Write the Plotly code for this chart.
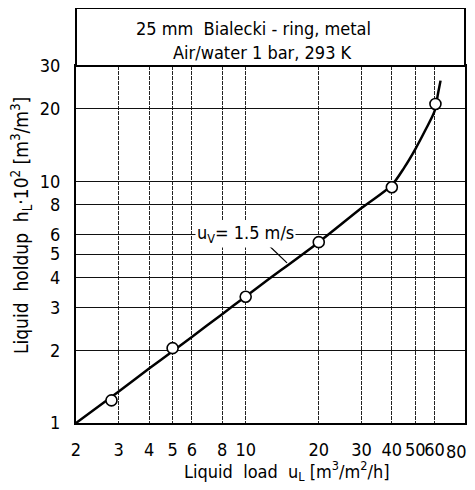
import plotly.graph_objects as go

# ---- data ----
x_ticks = [2, 3, 4, 5, 6, 8, 10, 20, 30, 40, 50, 60, 80]
y_ticks = [1, 2, 3, 4, 5, 6, 8, 10, 20, 30]

# measured points (liquid load, holdup*100)
pts_x = [2.8, 5.0, 10.0, 20.0, 40.0, 60.5]
pts_y = [1.24, 2.04, 3.33, 5.6, 9.45, 20.9]

# fitted curve u_V = 1.5 m/s
curve_x = [2, 3, 4, 5, 6, 8, 10, 12, 20, 30, 40, 45, 50, 55, 60, 62, 63.5]
curve_y = [1.0, 1.35, 1.68, 1.98, 2.27, 2.82, 3.34, 3.83, 5.6, 7.75, 9.65, 11.4, 13.6, 16.3, 19.5, 23.1, 26.1]

# leader line of the curve label
leader_x = [12.4, 14.8]
leader_y = [5.45, 4.6]

FONT = "DejaVu Sans Condensed, Liberation Sans Narrow, sans-serif"

# page body has an 8px margin -> figure sized to fit the 475x490 window
OFF = 8
W, H = 467, 474
L, T = 76 - OFF, 66 - OFF
PW, PH = 389, 357
R = W - L - PW
B = H - T - PH


def px(xp):  # page pixel x -> paper x
    return (xp - OFF - L) / PW


def py(yp):  # page pixel y -> paper y
    return (T + PH - (yp - OFF)) / PH


fig = go.Figure()

fig.add_trace(go.Scatter(
    x=curve_x, y=curve_y, mode="lines",
    line=dict(color="black", width=2.5, shape="spline", smoothing=0.8),
    hoverinfo="skip", showlegend=False))

fig.add_trace(go.Scatter(
    x=leader_x, y=leader_y, mode="lines",
    line=dict(color="black", width=1.2),
    hoverinfo="skip", showlegend=False))

fig.add_trace(go.Scatter(
    x=pts_x, y=pts_y, mode="markers",
    marker=dict(symbol="circle", size=11, color="white",
                line=dict(color="black", width=1.6)),
    showlegend=False))

axis_common = dict(
    showline=True, linecolor="black", linewidth=2, mirror=True,
    ticks="outside", tickcolor="rgba(0,0,0,0)", automargin=False,
    zeroline=False, ticklabeloverflow="allow",
    tickfont=dict(family=FONT, size=18, color="black"),
)

# last x label (at the very right edge) is drawn as an annotation so it is not clipped
x_text = [str(v) for v in x_ticks]
last_label = x_text[-1]
x_text[-1] = ""

fig.update_xaxes(
    type="log", range=[0.30103, 1.9035], tickangle=0,
    tickvals=x_ticks, ticktext=x_text,
    showgrid=True, gridcolor="#222", gridwidth=1, griddash="4px,1px",
    ticklen=9, **axis_common)

fig.update_yaxes(
    type="log", range=[0, 1.47712],
    tickvals=y_ticks, ticktext=[str(v) for v in y_ticks],
    showgrid=True, gridcolor="#111", gridwidth=1.2,
    ticklen=10, **axis_common)

# title box above the plot
fig.add_shape(type="rect", xref="paper", yref="paper",
              x0=0, x1=1, y0=1, y1=py(8),
              line=dict(color="black", width=2), fillcolor="white")


def note(text, xp, yp, size=18, **kw):
    fig.add_annotation(text=text, xref="paper", yref="paper",
                       x=px(xp), y=py(yp), xanchor="center", yanchor="middle",
                       showarrow=False,
                       font=dict(family=FONT, size=size, color="black"), **kw)


note(last_label, 456, 451)
note("25 mm  Bialecki - ring, metal", 253, 29)
note("Air/water 1 bar, 293 K", 262, 53)
note("u<sub>V</sub>= 1.5 m/s", 245, 234, bgcolor="white")
note("Liquid  holdup  h<sub>L</sub>·10<sup>2</sup> [m<sup>3</sup>/m<sup>3</sup>]",
     21, 226, size=19, textangle=-90)
note("Liquid  load  u<sub>L</sub> [m<sup>3</sup>/m<sup>2</sup>/h]", 287, 471, size=18)

fig.update_layout(
    width=W, height=H,
    margin=dict(l=L, r=R, t=T, b=B),
    paper_bgcolor="white", plot_bgcolor="white",
    showlegend=False,
)

fig.write_html("out.html")
